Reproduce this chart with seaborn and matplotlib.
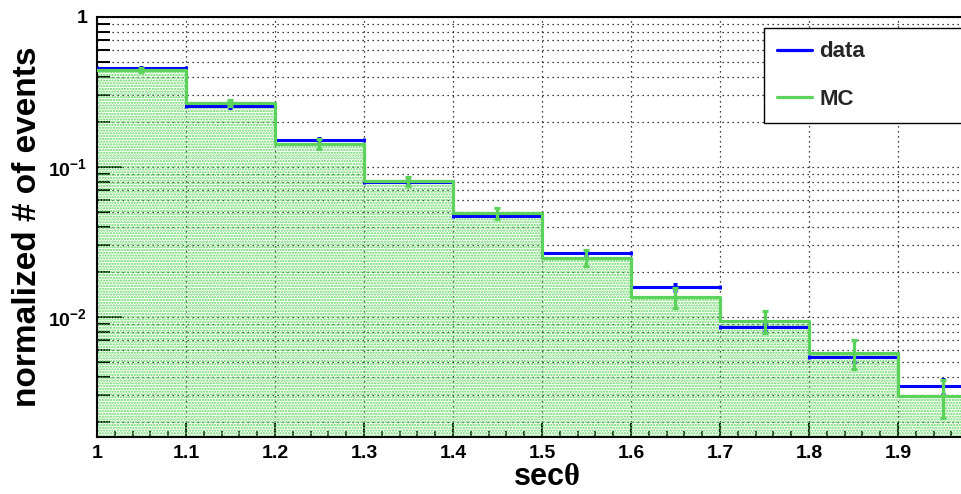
import numpy as np
import pandas as pd
import matplotlib
matplotlib.use('Agg')
import matplotlib.pyplot as plt
import seaborn as sns
from matplotlib.lines import Line2D
from matplotlib.ticker import FixedLocator, MultipleLocator, LogLocator, NullFormatter, FixedFormatter

# ---- data ----
bin_edges = [1.0, 1.1, 1.2, 1.3, 1.4, 1.5, 1.6, 1.7, 1.8, 1.9, 2.0]
bin_centers = [1.05, 1.15, 1.25, 1.35, 1.45, 1.55, 1.65, 1.75, 1.85, 1.95]
data_vals = [0.457, 0.255, 0.151, 0.0792, 0.0471, 0.0268, 0.0158, 0.00853, 0.00539, 0.00347]
data_err = [0.008, 0.008, 0.0046, 0.0024, 0.0014, 0.0013, 0.0009, 0.0005, 0.00035, 0.0004]
mc_vals = [0.443, 0.266, 0.142, 0.0807, 0.0491, 0.0248, 0.0135, 0.0094, 0.00573, 0.00297]
mc_err = [0.012, 0.012, 0.011, 0.0056, 0.0042, 0.0030, 0.0020, 0.0016, 0.00125, 0.00086]
x_ticks = [1.0, 1.1, 1.2, 1.3, 1.4, 1.5, 1.6, 1.7, 1.8, 1.9]
x_tick_labels = ['1', '1.1', '1.2', '1.3', '1.4', '1.5', '1.6', '1.7', '1.8', '1.9']
y_ticks = [1e-2, 1e-1, 1.0]
y_tick_labels = [r'$\mathbf{10^{-2}}$', r'$\mathbf{10^{-1}}$', '1']
series_labels = ['data', 'MC']

BLUE = '#0000ff'
GREEN = '#5bd35b'
HATCH_GREEN = '#5fd65f'

sns.set_theme(style='white')
plt.rcParams['font.family'] = ['Liberation Sans', 'DejaVu Sans']
plt.rcParams['font.weight'] = 'bold'
plt.rcParams['mathtext.fontset'] = 'custom'
plt.rcParams['mathtext.rm'] = 'Liberation Serif'
plt.rcParams['mathtext.it'] = 'Liberation Serif'
plt.rcParams['mathtext.bf'] = 'Liberation Sans:bold'
plt.rcParams['hatch.linewidth'] = 1.1
plt.rcParams['hatch.color'] = HATCH_GREEN

fig = plt.figure(figsize=(9.62, 4.94), dpi=100)
ax = fig.add_axes([0.1008, 0.1154, 0.9252, 0.8502])
ax.set_yscale('log')

df = pd.DataFrame({'x': bin_centers, 'data': data_vals, 'mc': mc_vals})

# MC filled (hatched) histogram
n_before = len(ax.collections)
sns.histplot(data=df, x='x', weights='mc', bins=bin_edges, element='step', fill=True,
             ax=ax, color=HATCH_GREEN, linewidth=0, zorder=1)
for coll in ax.collections[n_before:]:
    coll.set_facecolor('none')
    coll.set_edgecolor(HATCH_GREEN)
    coll.set_linewidth(0)
    coll.set_hatch('......')
    coll.set_alpha(1.0)
    coll.set_zorder(1)

# data error bars (blue horizontal bars)
ax.errorbar(bin_centers, data_vals, xerr=0.05, yerr=data_err, fmt='none', ecolor=BLUE,
            elinewidth=2.2, capsize=1.5, capthick=2.2, zorder=3)
# MC outline
sns.histplot(data=df, x='x', weights='mc', bins=bin_edges, element='step', fill=False,
             ax=ax, color=GREEN, linewidth=2.3, zorder=4)
ax.errorbar(bin_centers, mc_vals, yerr=mc_err, fmt='none', ecolor=GREEN,
            elinewidth=2.3, capsize=2.2, capthick=2.3, zorder=4)

ax.set_xlim(1.0, 2.0)
ax.set_ylim(10 ** -2.8, 1.0)

ax.xaxis.set_major_locator(FixedLocator(x_ticks))
ax.xaxis.set_major_formatter(FixedFormatter(x_tick_labels))
ax.xaxis.set_minor_locator(MultipleLocator(0.02))
ax.yaxis.set_major_locator(FixedLocator(y_ticks))
ax.yaxis.set_major_formatter(FixedFormatter(y_tick_labels))
ax.yaxis.set_minor_locator(LogLocator(base=10, subs=range(2, 10), numticks=20))
ax.yaxis.set_minor_formatter(NullFormatter())

ax.tick_params(axis='x', which='major', direction='in', length=10, width=1.4,
               labelsize=14, pad=6, colors='black')
ax.tick_params(axis='x', which='minor', direction='in', length=4, width=1.2, colors='black')
ax.tick_params(axis='y', which='major', direction='in', length=18, width=1.4,
               labelsize=14, pad=7, colors='black')
ax.tick_params(axis='y', which='minor', direction='in', length=9, width=1.4, colors='black')
ax.tick_params(bottom=True, left=True, which='both')

for lab in ax.get_xticklabels() + ax.get_yticklabels():
    lab.set_fontweight('bold')

grid_kw = dict(color='black', linestyle=(0, (1, 3)), linewidth=0.9)
ax.grid(True, axis='x', which='major', **grid_kw)
ax.grid(True, axis='y', which='both', **grid_kw)

for s in ax.spines.values():
    s.set_color('black')
    s.set_linewidth(1.5)

ax.set_xlabel(r'sec$\theta$', fontsize=22, fontweight='bold', color='black')
ax.set_ylabel('normalized # of events', fontsize=24, fontweight='bold', color='black')
ax.xaxis.set_label_coords(0.505, -0.06)
ax.yaxis.set_label_coords(-0.061, 0.5)

handles = [Line2D([0], [0], color=BLUE, lw=2.3), Line2D([0], [0], color=GREEN, lw=2.3)]
leg = ax.legend(handles, series_labels, loc='upper left', mode='expand',
                bbox_to_anchor=(0.7494, 0.0, 0.26, 0.9738), borderaxespad=0,
                fontsize=16, frameon=True, fancybox=False, framealpha=1,
                edgecolor='black', borderpad=0.6, labelspacing=1.2,
                handlelength=1.55, handletextpad=0.35)
leg.get_frame().set_linewidth(1.0)
for t in leg.get_texts():
    t.set_fontweight('bold')
leg.set_zorder(10)

fig.savefig('out.png', dpi=100)
